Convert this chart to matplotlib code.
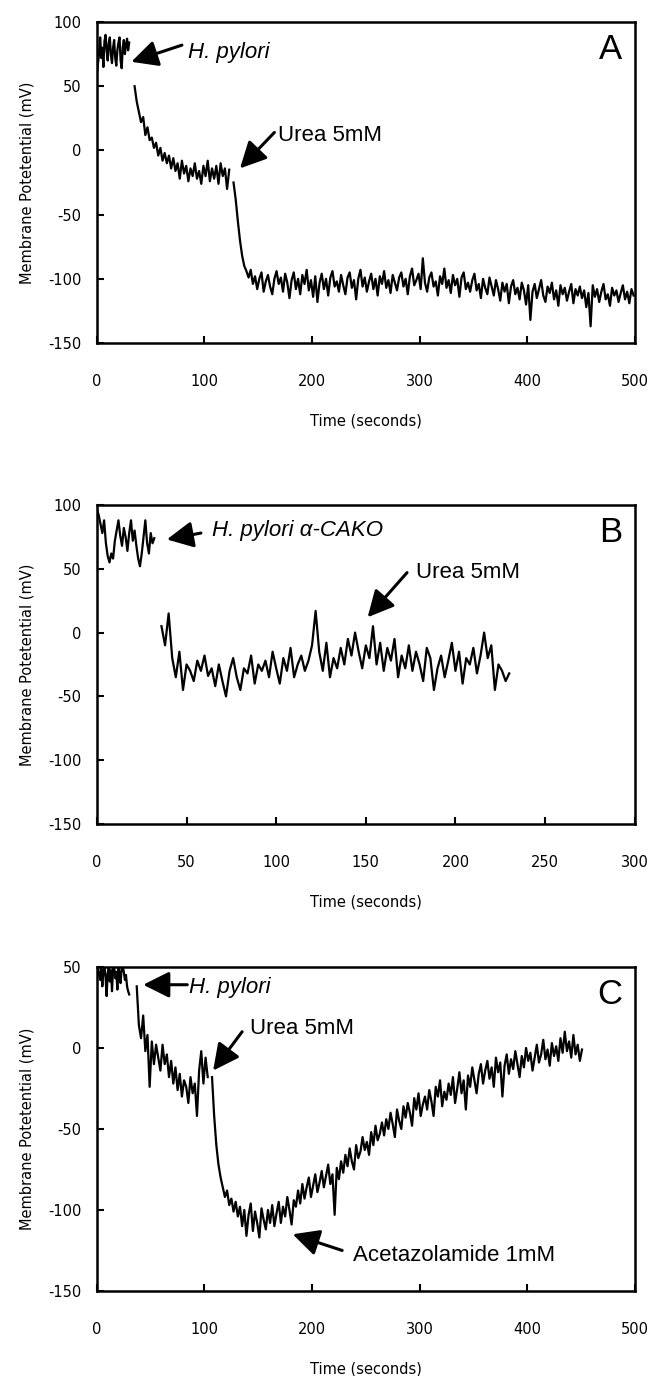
import numpy as np
import matplotlib.pyplot as plt

plt.rcParams['axes.unicode_minus'] = False

# Panel A - H. pylori, urea 5 mM (start time, step in s, values in mV)
a_starts = [0, 35, 127]
a_steps = [1, 2, 2]
a_seg1 = [60, 68, 75, 88, 72, 80, 65, 85, 90, 78, 70, 84, 88, 74, 68, 80, 86, 72, 66, 78,
          84, 88, 70, 64, 80, 86, 75, 82, 87, 78, 84]
a_seg2 = [50, 38, 30, 22, 26, 12, 18, 8, 10, 2, 6, -4, 2, -8, -2, -10, -4, -14, -6, -16,
          -10, -22, -8, -18, -12, -24, -14, -20, -10, -22, -16, -26, -12, -20, -8, -24, -14, -22, -12, -26,
          -10, -20, -14, -30, -15]
a_seg3 = [-25, -38, -55, -70, -82, -90, -94, -99, -93, -104,
          -98, -108, -100, -95, -110, -102, -97, -106, -112, -100,
          -94, -104, -99, -110, -96, -103, -115, -101, -95, -108,
          -100, -112, -97, -104, -93, -109, -101, -114, -98, -118,
          -103, -96, -108, -100, -113, -99, -94, -106, -102, -110,
          -97, -105, -112, -99, -95, -107, -101, -116, -100, -93,
          -106, -99, -110, -102, -96, -108, -100, -113, -98, -104,
          -94, -107, -101, -111, -97, -103, -109, -99, -95, -106,
          -100, -112, -98, -92, -105, -101, -96, -108, -84, -103,
          -110, -99, -95, -106, -102, -113, -98, -104, -92, -107,
          -101, -111, -97, -105, -100, -114, -99, -95, -108, -103,
          -110, -101, -96, -109, -104, -115, -100, -107, -112, -99,
          -106, -113, -101, -108, -117, -103, -110, -104, -119, -106,
          -101, -112, -107, -116, -103, -109, -120, -105, -132, -110,
          -104, -115, -108, -101, -113, -118, -106, -111, -103, -116,
          -109, -121, -105, -112, -107, -117, -110, -104, -119, -108,
          -113, -106, -115, -109, -122, -111, -137, -105, -114, -108,
          -118, -110, -104, -116, -112, -121, -107, -113, -109, -118,
          -111, -105, -116, -110, -119, -108, -113]

# Panel B - H. pylori alpha-CAKO
b_starts = [0, 36]
b_steps = [1, 2]
b_seg1 = [97, 92, 85, 78, 88, 70, 60, 55, 62, 58, 72, 80, 88, 76, 68, 82, 75, 64, 78, 88,
          72, 80, 68, 58, 52, 62, 75, 88, 70, 62, 78, 70, 74]
b_seg2 = [5, -10, 15, -20, -35, -15, -45, -25, -30, -38,
          -22, -30, -18, -34, -28, -42, -25, -38, -50, -30,
          -20, -35, -45, -28, -32, -18, -40, -25, -30, -22,
          -35, -15, -28, -40, -20, -30, -12, -35, -25, -18,
          -30, -22, -10, 17, -15, -30, -8, -35, -20, -28,
          -12, -25, -5, -18, 0, -15, -28, -10, -20, 5,
          -25, -8, -30, -12, -22, -5, -35, -18, -28, -10,
          -30, -15, -25, -38, -12, -20, -45, -28, -18, -35,
          -22, -8, -30, -15, -40, -20, -25, -12, -32, -18,
          0, -20, -10, -45, -25, -30, -38, -32]

# Panel C - H. pylori, urea 5 mM, then acetazolamide 1 mM
c_starts = [0, 37, 107]
c_steps = [1, 2, 2]
c_seg1 = [48, 50, 45, 42, 49, 38, 47, 50, 44, 32, 46, 50, 41, 48, 35, 49, 50, 43, 47, 36,
          50, 46, 40, 49, 50, 47, 42, 45, 38, 35, 33]
c_seg2 = [38, 14, 6, 20, -2, 8, -24, 4, -10, 2,
          -6, -14, 2, -10, -4, -18, -8, -22, -12, -26,
          -16, -30, -20, -24, -34, -18, -28, -22, -42, -14,
          -2, -22, -6, -18]
c_seg3 = [-18, -42, -60, -72, -80, -86, -92, -88, -97, -93,
          -101, -95, -104, -98, -110, -100, -116, -103, -96, -113,
          -101, -108, -117, -99, -106, -112, -100, -108, -97, -110,
          -102, -95, -108, -98, -104, -92, -100, -109, -94, -98,
          -88, -96, -84, -93, -86, -80, -92, -85, -78, -89,
          -83, -76, -86, -79, -72, -84, -78, -103, -74, -81,
          -70, -77, -66, -73, -62, -70, -75, -60, -68, -64,
          -55, -63, -58, -66, -52, -60, -48, -57, -53, -46,
          -54, -44, -50, -40, -47, -55, -38, -45, -50, -36,
          -43, -34, -40, -48, -31, -38, -28, -42, -35, -30,
          -38, -26, -33, -42, -24, -30, -20, -36, -27, -32,
          -22, -29, -18, -34, -25, -15, -28, -20, -38, -17,
          -24, -12, -20, -28, -16, -10, -22, -14, -8, -19,
          -12, -24, -6, -15, -9, -30, -11, -4, -16, -7,
          -13, -2, -10, -18, -5, -12, 0, -8, -3, -14,
          -6, 2, -9, -4, 5, -7, -1, -11, 3, -5,
          1, -8, 6, -3, 10, -2, 4, -6, 8, -4,
          2, -8, -1]

panels = [
    dict(letter='A', starts=a_starts, steps=a_steps, segs=[a_seg1, a_seg2, a_seg3],
         xlim=(0, 500), xticks=range(0, 501, 100), ylim=(-150, 100), yticks=range(-150, 101, 50),
         notes=[('H. pylori', True, (85, 76), (79, 82), (32, 69)),
                ('Urea 5mM', False, (168, 12), (165, 14), (133, -14))]),
    dict(letter='B', starts=b_starts, steps=b_steps, segs=[b_seg1, b_seg2],
         xlim=(0, 300), xticks=range(0, 301, 50), ylim=(-150, 100), yticks=range(-150, 101, 50),
         notes=[('H. pylori α-CAKO', True, (64, 80), (58, 78), (39, 73)),
                ('Urea 5mM', False, (178, 47), (173, 47), (151, 12))]),
    dict(letter='C', starts=c_starts, steps=c_steps, segs=[c_seg1, c_seg2, c_seg3],
         xlim=(0, 500), xticks=range(0, 501, 100), ylim=(-150, 50), yticks=range(-150, 51, 50),
         notes=[('H. pylori', True, (86, 37), (84, 39), (43, 39)),
                ('Urea 5mM', False, (142, 12), (135, 10), (108, -14)),
                ('Acetazolamide 1mM', False, (238, -128), (228, -125), (182, -115))]),
]

boxes = [(0.148, 0.7507, 0.821, 0.2333),
         (0.148, 0.4012, 0.821, 0.2318),
         (0.148, 0.0618, 0.821, 0.2355)]

fig = plt.figure(figsize=(6.55, 13.76), dpi=100)

for p, box in zip(panels, boxes):
    ax = fig.add_axes(box)
    for start, step, vals in zip(p['starts'], p['steps'], p['segs']):
        t = start + step * np.arange(len(vals))
        ax.plot(t, vals, color='black', lw=1.6)
    ax.set_xlim(*p['xlim'])
    ax.set_ylim(*p['ylim'])
    ax.set_xticks(list(p['xticks']))
    ax.set_yticks(list(p['yticks']))
    for s in ax.spines.values():
        s.set_linewidth(1.8)
    ax.tick_params(direction='in', length=5, width=1.5, labelsize=10.5)
    ax.tick_params(axis='x', pad=22)
    ax.tick_params(axis='y', pad=11)
    ax.set_xlabel('Time (seconds)', fontsize=10.5, labelpad=18)
    ax.set_ylabel('Membrane Potetential (mV)', fontsize=10.5, labelpad=10)
    ax.text(0.976, 0.915, p['letter'], transform=ax.transAxes, ha='right', va='center',
            fontsize=25, family='Liberation Sans')
    for text, italic, pos, tail, tip in p['notes']:
        ax.annotate('', xy=tip, xytext=tail,
                    arrowprops=dict(arrowstyle='-|>,head_length=0.8,head_width=0.4',
                                    color='black', lw=2.2, mutation_scale=20,
                                    shrinkA=0, shrinkB=0))
        ax.text(pos[0], pos[1], text, ha='left', va='center', fontsize=16,
                family='Liberation Sans', style='italic' if italic else 'normal')

plt.savefig('out.png', dpi=100)
